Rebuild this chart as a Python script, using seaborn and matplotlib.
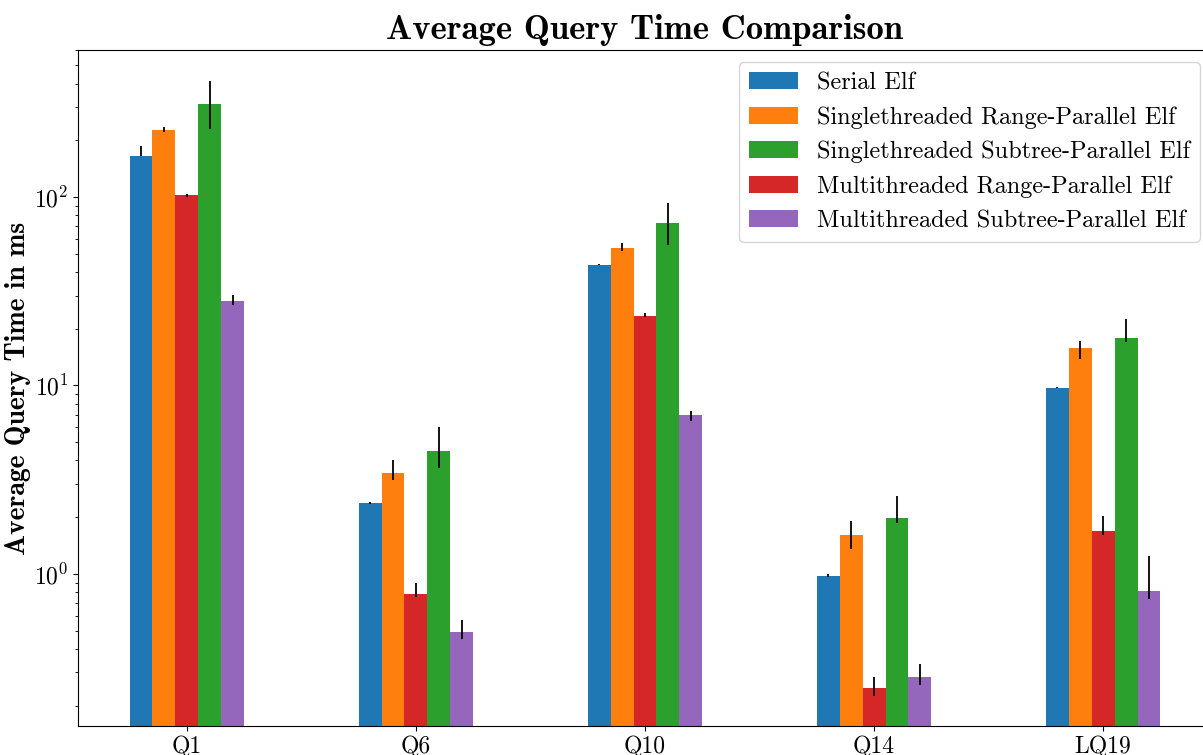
import numpy as np
import pandas as pd
import matplotlib
matplotlib.use("Agg")
import matplotlib.pyplot as plt
import seaborn as sns

queries = ["Q1", "Q6", "Q10", "Q14", "LQ19"]
series = [
    "Serial Elf",
    "Singlethreaded Range-Parallel Elf",
    "Multithreaded Range-Parallel Elf",
    "Singlethreaded Subtree-Parallel Elf",
    "Multithreaded Subtree-Parallel Elf",
]
legend_order = [
    "Serial Elf",
    "Singlethreaded Range-Parallel Elf",
    "Singlethreaded Subtree-Parallel Elf",
    "Multithreaded Range-Parallel Elf",
    "Multithreaded Subtree-Parallel Elf",
]
colors = {
    "Serial Elf": "#1f77b4",
    "Singlethreaded Range-Parallel Elf": "#ff7f0e",
    "Singlethreaded Subtree-Parallel Elf": "#2ca02c",
    "Multithreaded Range-Parallel Elf": "#d62728",
    "Multithreaded Subtree-Parallel Elf": "#9467bd",
}

# mean times (ms) per query
serial = [166, 2.38, 43.8, 0.976, 9.72]
st_range = [228, 3.44, 53.9, 1.61, 15.9]
mt_range = [102, 0.783, 23.4, 0.248, 1.69]
st_subtree = [313, 4.50, 73.1, 1.98, 17.9]
mt_subtree = [28.2, 0.492, 6.99, 0.284, 0.813]

# error bar extents (lower end, upper end)
serial_lo = [166, 2.36, 43.5, 0.960, 9.65]
serial_hi = [187.5, 2.40, 44.1, 1.00, 9.80]
st_range_lo = [220.6, 3.16, 51.5, 1.36, 13.9]
st_range_hi = [235.6, 4.00, 57.3, 1.91, 17.2]
mt_range_lo = [99.5, 0.758, 23.0, 0.225, 1.61]
mt_range_hi = [104, 0.899, 24.2, 0.284, 2.02]
st_subtree_lo = [230, 3.66, 55.4, 1.87, 17.1]
st_subtree_hi = [414, 6.04, 93.0, 2.60, 22.6]
mt_subtree_lo = [26.9, 0.453, 6.52, 0.257, 0.739]
mt_subtree_hi = [30.4, 0.572, 7.34, 0.331, 1.24]

means = [serial, st_range, mt_range, st_subtree, mt_subtree]
lows = [serial_lo, st_range_lo, mt_range_lo, st_subtree_lo, mt_subtree_lo]
highs = [serial_hi, st_range_hi, mt_range_hi, st_subtree_hi, mt_subtree_hi]

rows = []
for s, vals in zip(series, means):
    for q, v in zip(queries, vals):
        rows.append({"query": q, "impl": s, "time": v})
df = pd.DataFrame(rows)

plt.rcParams["font.family"] = "serif"
plt.rcParams["font.serif"] = ["cmr10"]
plt.rcParams["mathtext.fontset"] = "cm"
plt.rcParams["axes.formatter.use_mathtext"] = True

fig = plt.figure(figsize=(12.03, 7.55), dpi=100)
ax = fig.add_axes([78 / 1203, 1 - 726 / 755, (1212 - 78) / 1203, (726 - 50) / 755])

sns.barplot(data=df, x="query", y="time", hue="impl", order=queries,
            hue_order=series, palette=colors, width=0.5, saturation=1,
            errorbar=None, linewidth=0, ax=ax)
ax.set_yscale("log")

for cont, vals, lo, hi in zip(ax.containers, means, lows, highs):
    xs = [b.get_x() + b.get_width() / 2 for b in cont]
    v = np.array(vals)
    yerr = np.vstack([v - np.array(lo), np.array(hi) - v])
    ax.errorbar(xs, v, yerr=yerr, fmt="none", ecolor="black", elinewidth=1.3)

ax.set_xlim(-0.475, 4.475)
ax.set_ylim(0.156, 603)
ax.set_xlabel("")
ax.set_ylabel("Average Query Time in ms", fontfamily="cmb10", fontsize=20, labelpad=2)
ax.set_title("Average Query Time Comparison", fontfamily="cmb10", fontsize=25, pad=8)
ax.tick_params(axis="both", labelsize=17)

handles, labels = ax.get_legend_handles_labels()
hmap = dict(zip(labels, handles))
ax.legend([hmap[l] for l in legend_order], legend_order, loc="upper right",
          fontsize=17.5, title=None)

fig.savefig("out.png", dpi=100)
